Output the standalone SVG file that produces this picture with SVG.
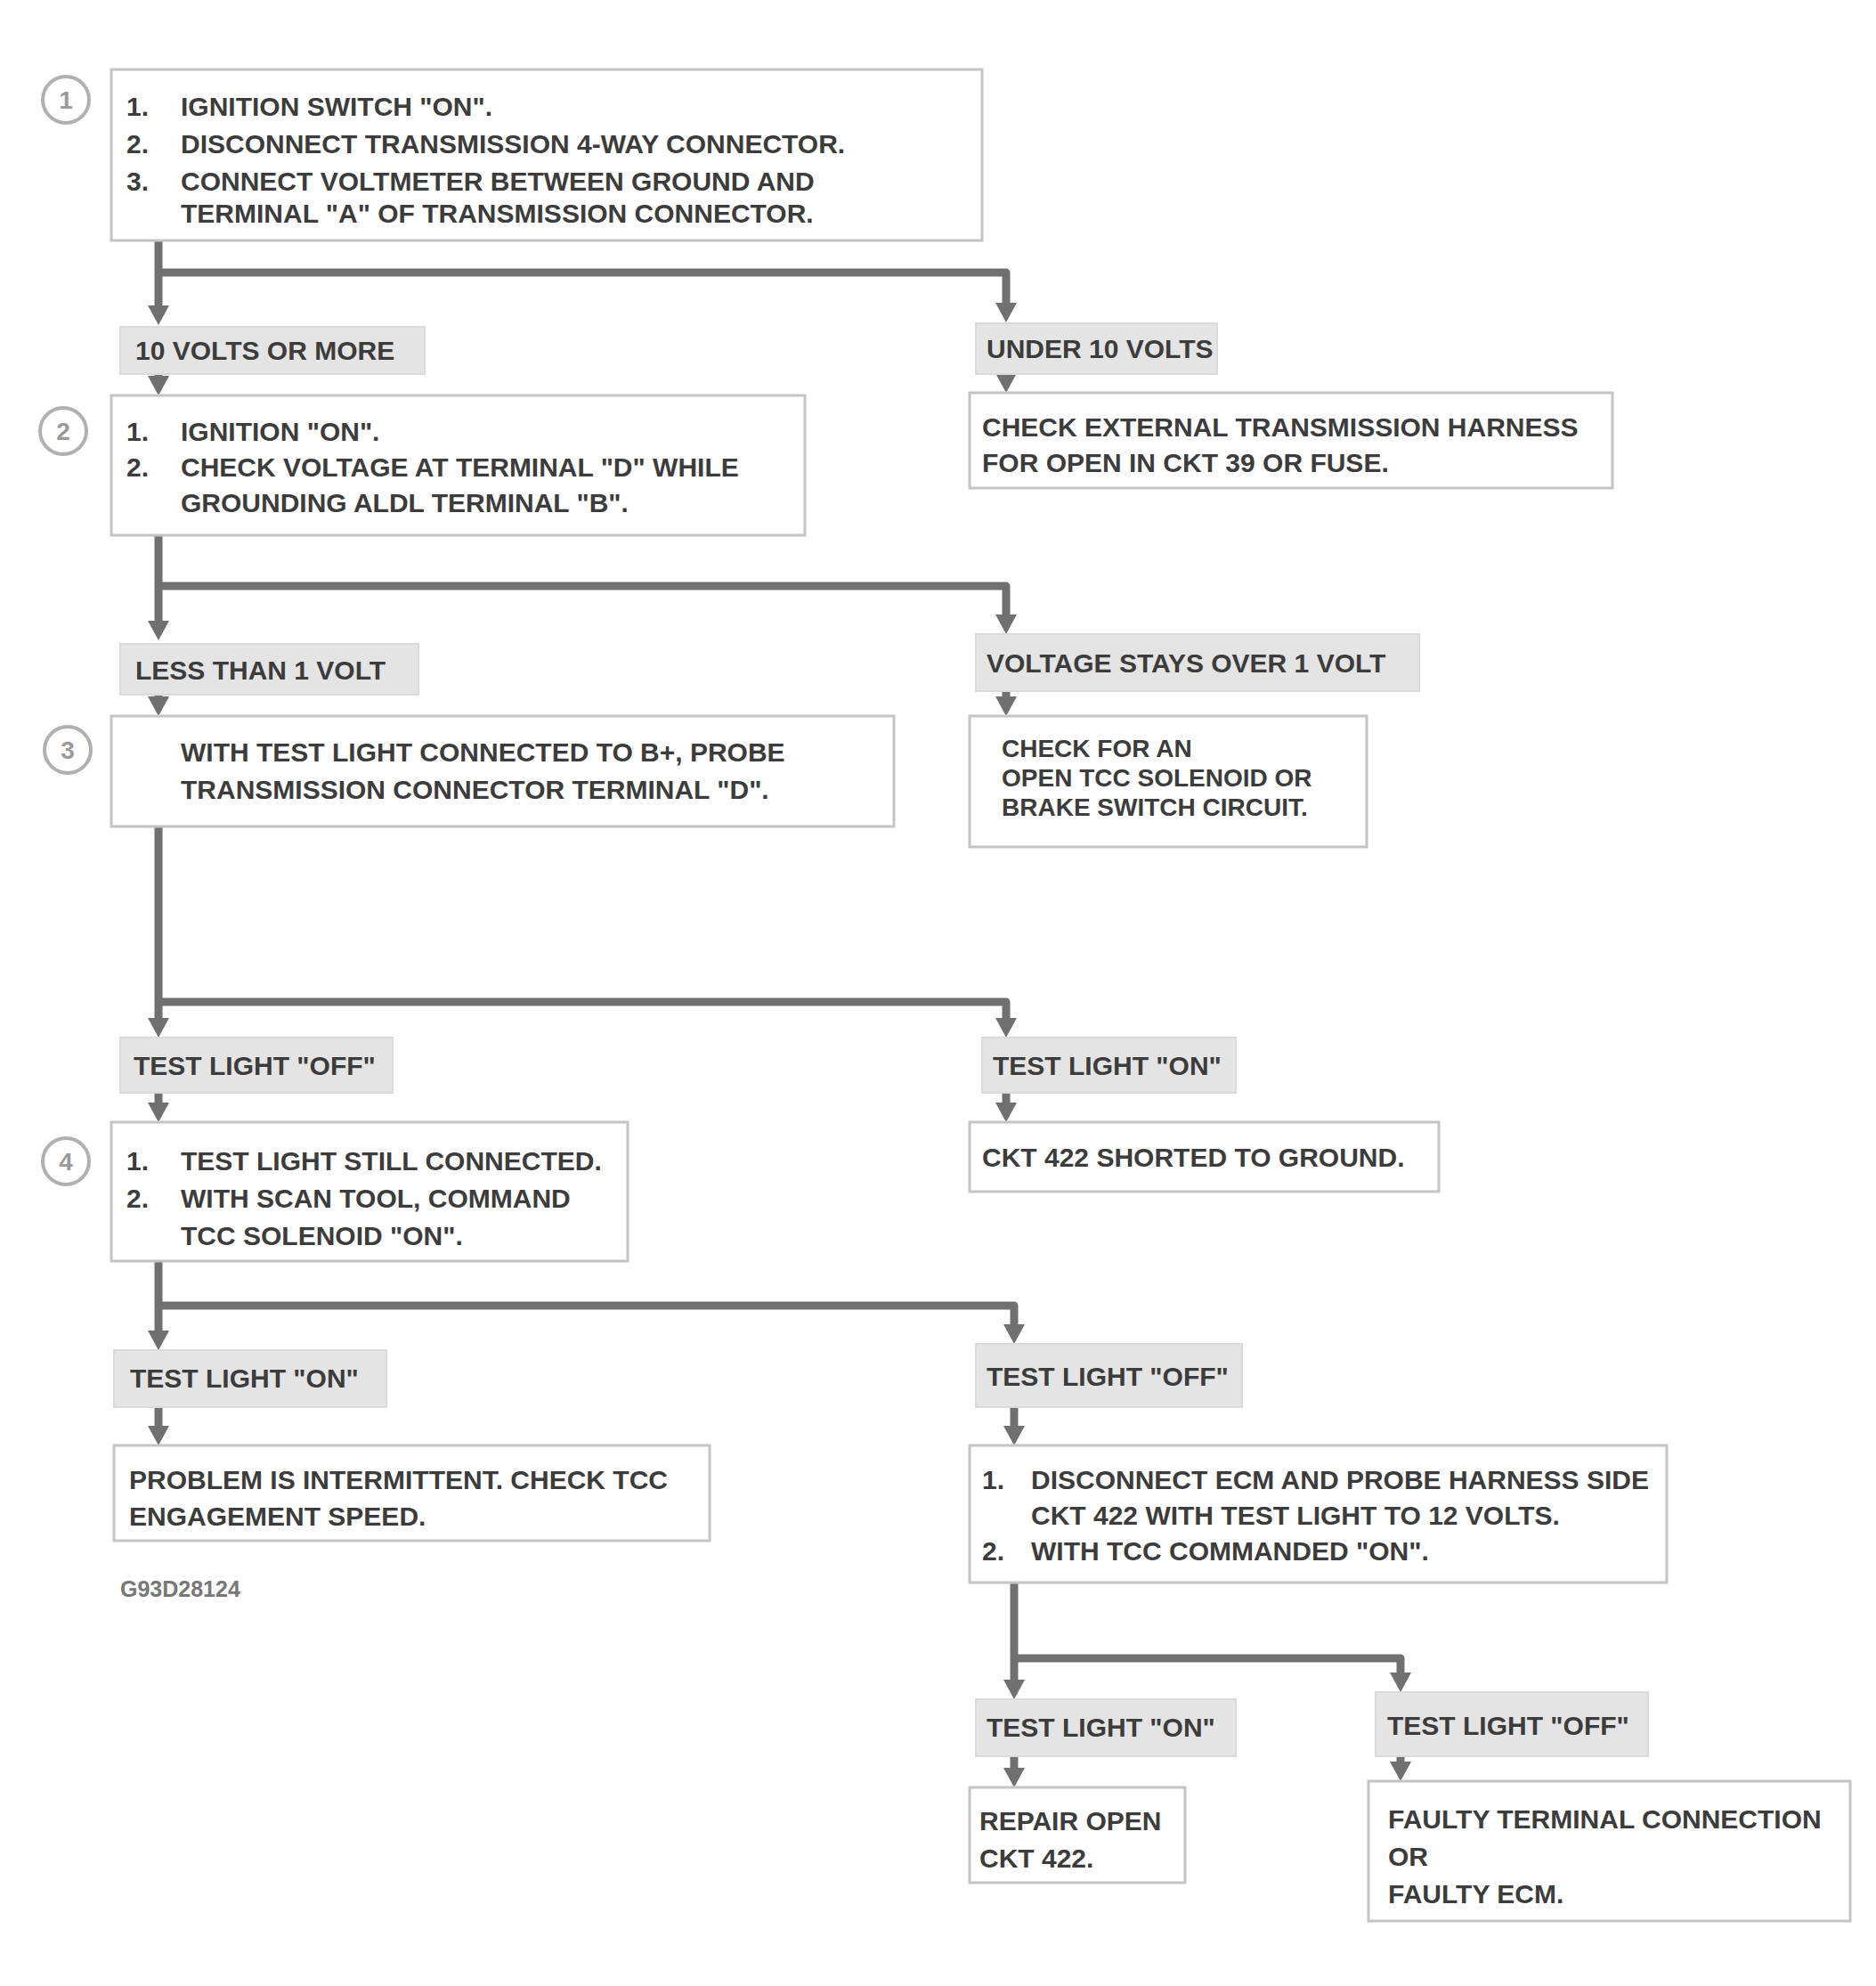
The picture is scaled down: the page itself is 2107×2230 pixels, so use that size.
<svg xmlns="http://www.w3.org/2000/svg" width="2107" height="2230" viewBox="0 0 2107 2230">
<defs>
<style>
.bg{fill:#ffffff}
.box{fill:#ffffff;stroke:#c4c4c4;stroke-width:3}
.lbl{fill:#e4e4e4;stroke:#dadada;stroke-width:2}
.t{font-family:"Liberation Sans",Arial,sans-serif;font-weight:bold;font-size:30px;fill:#3c3c3c}
.s{font-size:28px}
.f{font-size:25px;fill:#777}
.conn{fill:none;stroke:#707070;stroke-width:9;stroke-linejoin:round;marker-end:url(#ah)}
.step{fill:none;stroke:#b0b0b0;stroke-width:4}
.stept{font-family:"Liberation Sans",Arial,sans-serif;font-weight:bold;font-size:28px;fill:#9a9a9a;text-anchor:middle}
</style>
<marker id="ah" markerUnits="userSpaceOnUse" markerWidth="24" markerHeight="26" refX="2" refY="12" orient="auto">
<path d="M0,0 L22,12 L0,24 z" fill="#707070"/>
</marker>
</defs>
<rect class="bg" x="0" y="0" width="2107" height="2230"/>

<g id="connectors">
<path class="conn" d="M178,270 V345"/>
<path class="conn" d="M178,306 H1130 V342"/>
<path class="conn" d="M178,420 V424"/>
<path class="conn" d="M1130,420 V421"/>
<path class="conn" d="M178,601 V699"/>
<path class="conn" d="M178,658 H1130 V692"/>
<path class="conn" d="M178,780 V784"/>
<path class="conn" d="M1130,776 V784"/>
<path class="conn" d="M178,928 V1145"/>
<path class="conn" d="M178,1125 H1130 V1145"/>
<path class="conn" d="M178,1227 V1240"/>
<path class="conn" d="M1130,1227 V1240"/>
<path class="conn" d="M178,1416 V1496"/>
<path class="conn" d="M178,1466 H1139 V1489"/>
<path class="conn" d="M178,1580 V1603"/>
<path class="conn" d="M1139,1580 V1603"/>
<path class="conn" d="M1139,1777 V1888"/>
<path class="conn" d="M1139,1862 H1573 V1880"/>
<path class="conn" d="M1139,1972 V1987"/>
<path class="conn" d="M1573,1972 V1980"/>
</g>

<g id="step1">
<circle class="step" cx="74" cy="112" r="26"/>
<text class="stept" x="74" y="122">1</text>
<rect class="box" x="125" y="78" width="978" height="192"/>
<text class="t" x="142" y="130">1.</text>
<text class="t" x="203" y="130">IGNITION SWITCH "ON".</text>
<text class="t" x="142" y="172">2.</text>
<text class="t" x="203" y="172">DISCONNECT TRANSMISSION 4-WAY CONNECTOR.</text>
<text class="t" x="142" y="214">3.</text>
<text class="t" x="203" y="214">CONNECT VOLTMETER BETWEEN GROUND AND</text>
<text class="t" x="203" y="250">TERMINAL "A" OF TRANSMISSION CONNECTOR.</text>
</g>

<g id="label1L">
<rect class="lbl" x="135" y="367" width="342" height="53"/>
<text class="t" x="152" y="404">10 VOLTS OR MORE</text>
</g>
<g id="label1R">
<rect class="lbl" x="1096" y="363" width="271" height="57"/>
<text class="t" x="1108" y="402">UNDER 10 VOLTS</text>
</g>
<g id="result1R">
<rect class="box" x="1089" y="441" width="722" height="107"/>
<text class="t" x="1103" y="490">CHECK EXTERNAL TRANSMISSION HARNESS</text>
<text class="t" x="1103" y="530">FOR OPEN IN CKT 39 OR FUSE.</text>
</g>

<g id="step2">
<circle class="step" cx="71" cy="484" r="26"/>
<text class="stept" x="71" y="494">2</text>
<rect class="box" x="125" y="444" width="779" height="157"/>
<text class="t" x="142" y="495">1.</text>
<text class="t" x="203" y="495">IGNITION "ON".</text>
<text class="t" x="142" y="535">2.</text>
<text class="t" x="203" y="535">CHECK VOLTAGE AT TERMINAL "D" WHILE</text>
<text class="t" x="203" y="575">GROUNDING ALDL TERMINAL "B".</text>
</g>

<g id="label2L">
<rect class="lbl" x="135" y="723" width="335" height="57"/>
<text class="t" x="152" y="763">LESS THAN 1 VOLT</text>
</g>
<g id="label2R">
<rect class="lbl" x="1096" y="712" width="498" height="64"/>
<text class="t" x="1108" y="755">VOLTAGE STAYS OVER 1 VOLT</text>
</g>
<g id="result2R">
<rect class="box" x="1089" y="804" width="446" height="147"/>
<text class="t s" x="1125" y="850">CHECK FOR AN</text>
<text class="t s" x="1125" y="883">OPEN TCC SOLENOID OR</text>
<text class="t s" x="1125" y="916">BRAKE SWITCH CIRCUIT.</text>
</g>

<g id="step3">
<circle class="step" cx="76" cy="842" r="26"/>
<text class="stept" x="76" y="852">3</text>
<rect class="box" x="125" y="804" width="879" height="124"/>
<text class="t" x="203" y="855">WITH TEST LIGHT CONNECTED TO B+, PROBE</text>
<text class="t" x="203" y="897">TRANSMISSION CONNECTOR TERMINAL "D".</text>
</g>

<g id="label3L">
<rect class="lbl" x="135" y="1165" width="306" height="62"/>
<text class="t" x="150" y="1207">TEST LIGHT "OFF"</text>
</g>
<g id="label3R">
<rect class="lbl" x="1103" y="1165" width="285" height="62"/>
<text class="t" x="1115" y="1207">TEST LIGHT "ON"</text>
</g>
<g id="result3R">
<rect class="box" x="1089" y="1260" width="527" height="78"/>
<text class="t" x="1103" y="1310">CKT 422 SHORTED TO GROUND.</text>
</g>

<g id="step4">
<circle class="step" cx="74" cy="1304" r="26"/>
<text class="stept" x="74" y="1314">4</text>
<rect class="box" x="125" y="1260" width="580" height="156"/>
<text class="t" x="142" y="1314">1.</text>
<text class="t" x="203" y="1314">TEST LIGHT STILL CONNECTED.</text>
<text class="t" x="142" y="1356">2.</text>
<text class="t" x="203" y="1356">WITH SCAN TOOL, COMMAND</text>
<text class="t" x="203" y="1398">TCC SOLENOID "ON".</text>
</g>

<g id="label4L">
<rect class="lbl" x="128" y="1516" width="306" height="64"/>
<text class="t" x="146" y="1558">TEST LIGHT "ON"</text>
</g>
<g id="label4R">
<rect class="lbl" x="1096" y="1509" width="299" height="71"/>
<text class="t" x="1108" y="1556">TEST LIGHT "OFF"</text>
</g>
<g id="result4L">
<rect class="box" x="128" y="1623" width="669" height="107"/>
<text class="t" x="145" y="1672">PROBLEM IS INTERMITTENT. CHECK TCC</text>
<text class="t" x="145" y="1713">ENGAGEMENT SPEED.</text>
</g>
<g id="step5">
<rect class="box" x="1089" y="1623" width="783" height="154"/>
<text class="t" x="1103" y="1672">1.</text>
<text class="t" x="1158" y="1672">DISCONNECT ECM AND PROBE HARNESS SIDE</text>
<text class="t" x="1158" y="1712">CKT 422 WITH TEST LIGHT TO 12 VOLTS.</text>
<text class="t" x="1103" y="1752">2.</text>
<text class="t" x="1158" y="1752">WITH TCC COMMANDED "ON".</text>
</g>

<g id="figcode">
<text class="t f" x="135" y="1793">G93D28124</text>
</g>

<g id="label5L">
<rect class="lbl" x="1096" y="1908" width="292" height="64"/>
<text class="t" x="1108" y="1950">TEST LIGHT "ON"</text>
</g>
<g id="label5R">
<rect class="lbl" x="1545" y="1900" width="306" height="72"/>
<text class="t" x="1558" y="1948">TEST LIGHT "OFF"</text>
</g>
<g id="result5L">
<rect class="box" x="1089" y="2007" width="242" height="107"/>
<text class="t" x="1100" y="2055">REPAIR OPEN</text>
<text class="t" x="1100" y="2097">CKT 422.</text>
</g>
<g id="result5R">
<rect class="box" x="1537" y="2000" width="541" height="157"/>
<text class="t" x="1559" y="2053">FAULTY TERMINAL CONNECTION</text>
<text class="t" x="1559" y="2095">OR</text>
<text class="t" x="1559" y="2137">FAULTY ECM.</text>
</g>
</svg>
